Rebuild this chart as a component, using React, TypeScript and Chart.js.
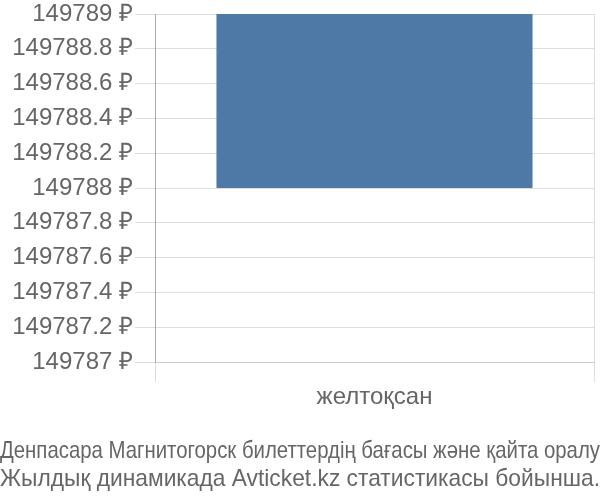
import React, { useEffect, useRef } from "react";
import { Chart, registerables } from "chart.js";

Chart.register(...registerables);

const categories = ["желтоқсан"];
const barRanges: [number, number][] = [[149788, 149789]];
const yMin = 149787;
const yMax = 149789;
const yStep = 0.2;
const titleLines = [
  "Денпасара Магнитогорск билеттердің бағасы және қайта оралу",
  "Жылдық динамикада Avticket.kz статистикасы бойынша.",
];

export default function App() {
  const ref = useRef<HTMLCanvasElement | null>(null);
  useEffect(() => {
    if (!ref.current) return;
    const font = "'Liberation Sans', Arial, sans-serif";
    const chart = new Chart(ref.current, {
      type: "bar",
      data: {
        labels: categories,
        datasets: [
          {
            data: barRanges as any,
            backgroundColor: "#4e79a7",
            borderWidth: 0,
          },
        ],
      },
      options: {
        animation: false,
        responsive: false,
        maintainAspectRatio: false,
        layout: { padding: { top: 0, right: 0, left: 0, bottom: 0 } },
        plugins: {
          legend: { display: false },
          tooltip: { enabled: false },
          title: {
            display: true,
            position: "bottom",
            text: titleLines,
            color: "#666",
            font: { family: font, size: 24, weight: "normal", lineHeight: 1.17 },
            padding: { top: 22, bottom: 7 },
          },
        },
        scales: {
          x: {
            grid: {
              color: "#dddddd",
              tickLength: 20,
              offset: true,
            },
            border: { color: "#cccccc" },
            ticks: { color: "#666", font: { family: font, size: 24 }, padding: 1 },
            afterFit: (s: any) => {
              s.height = 52.8;
            },
          },
          y: {
            min: yMin,
            max: yMax,
            grid: { color: "#dddddd", tickLength: 20 },
            border: { color: "#aaaaaa" },
            afterFit: (s: any) => {
              s.width = 155;
              s.paddingTop = 14;
            },
            ticks: {
              stepSize: yStep,
              color: "#666",
              font: { family: font, size: 24 },
              padding: 2,
              callback: (v: any) => `${Math.round(Number(v) * 10) / 10} ₽`,
            },
          },
          yRight: {
            position: "right",
            display: true,
            grid: { display: false, drawTicks: false },
            border: { display: false },
            ticks: { display: false },
            afterFit: (s: any) => {
              s.width = 6;
            },
          },
        },
      },
    });
    return () => chart.destroy();
  }, []);
  return (
    <div style={{ position: "fixed", left: 0, top: 0, width: 600, height: 500 }}>
      <canvas ref={ref} width={600} height={500} style={{ width: 600, height: 500 }} />
    </div>
  );
}
